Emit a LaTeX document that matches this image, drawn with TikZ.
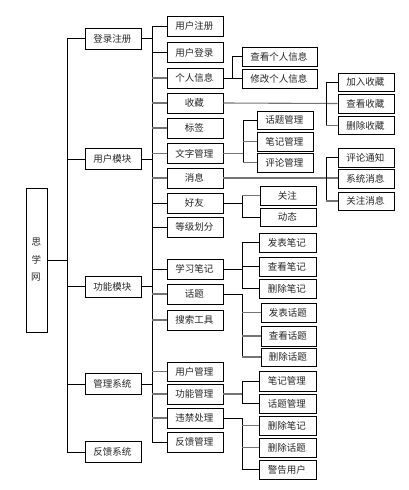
\documentclass[tikz,border=0pt]{standalone}
\usepackage{fontspec}
\newfontfamily\cjk{Noto Sans CJK SC}
\tikzset{
  box/.style={draw=black,line width=0.8pt,fill=white,inner sep=0pt,font=\cjk\fontsize{9.5}{11}\selectfont,text=black!85},
  ln/.style={draw=black,line width=0.7pt},
  gln/.style={draw=black!55,line width=1.1pt}
}
\newcommand{\parmark}[1]{#1{\color{black!45}\fontsize{5}{5}\selectfont .}}
\newcommand{\B}[6]{\node[box,minimum width=#4pt,minimum height=#5pt] (#1) at (#2,#3) {\parmark{#6}};}
\begin{document}
\begin{tikzpicture}[x=1pt,y=-1pt]
\useasboundingbox (0,0) rectangle (408,490);
% root
\node[box,minimum width=21pt,minimum height=144pt,align=center,font=\cjk\fontsize{9.5}{17.5}\selectfont] (root) at (36.5,260) {思\\学\\\parmark{网}};
% level 1
\B{dlzc}{113}{38.5}{56}{21}{登录注册}
\B{yhmk}{113}{159}{56}{21}{用户模块}
\B{gnmk}{113}{286.5}{56}{21}{功能模块}
\B{glxt}{113}{384}{56}{21}{管理系统}
\B{fkxt}{113}{452}{56}{21}{反馈系统}
% level 2
\B{yhzc}{195}{26}{56}{20}{用户注册}
\B{yhdl}{195}{52.5}{56}{20}{用户登录}
\B{grxx}{195}{78}{56}{20}{个人信息}
\B{sc}{195}{103}{56}{20}{收藏}
\B{bq}{195}{128}{56}{20}{标签}
\B{wzgl}{195}{153.5}{56}{20}{文字管理}
\B{xx}{195}{178}{56}{20}{消息}
\B{hy}{195}{203}{56}{20}{好友}
\B{djhf}{195}{227}{56}{20}{等级划分}
\B{xxbj}{195}{269}{56}{20}{学习笔记}
\B{ht}{195}{294}{56}{20}{话题}
\B{ssgj}{195}{320}{56}{20}{搜索工具}
\B{yhgl}{195}{371.5}{56}{19}{用户管理}
\B{gngl}{195}{394}{56}{20}{功能管理}
\B{wjcl}{195}{418}{56}{20}{违禁处理}
\B{fkgl}{195}{442}{56}{20}{反馈管理}
% level 3
\B{ckgr}{279.5}{56.5}{75}{19}{查看个人信息}
\B{xggr}{279.5}{78.5}{75}{19}{修改个人信息}
\B{jrsc}{366}{82}{56}{18}{加入收藏}
\B{cksc}{366}{103.5}{56}{19}{查看收藏}
\B{scsc}{366}{125.5}{56}{18}{删除收藏}
\B{htgl}{285}{120}{56}{18}{话题管理}
\B{bjgl}{285}{141.5}{56}{19}{笔记管理}
\B{plgl}{285}{162.5}{56}{19}{评论管理}
\B{pltz}{366}{157.5}{56}{19}{评论通知}
\B{xtxx}{366}{178.5}{56}{19}{系统消息}
\B{gzxx}{366}{201}{56}{18}{关注消息}
\B{gz}{288}{195.5}{56}{19}{关注}
\B{dt}{288}{217}{56}{18}{动态}
\B{fbbj}{287.5}{242.5}{57}{19}{发表笔记}
\B{ckbj}{287.5}{266.5}{57}{19}{查看笔记}
\B{scbj}{287.5}{288.5}{57}{19}{删除笔记}
\B{fbht}{288.5}{312.5}{55}{19}{发表话题}
\B{ckht}{288.5}{336}{55}{20}{查看话题}
\B{scht}{288.5}{357}{55}{18}{删除话题}
\B{bjgl2}{287.5}{381}{57}{20}{笔记管理}
\B{htgl2}{287.5}{403.5}{57}{19}{话题管理}
\B{scbj2}{287.5}{425.5}{57}{19}{删除笔记}
\B{scht2}{287.5}{447.5}{57}{19}{删除话题}
\B{jgyh}{287.5}{469.5}{57}{19}{警告用户}
% trunk coordinates
\coordinate (v1) at (67,0);
\coordinate (v2) at (152,0);
\coordinate (va) at (232,0);
\coordinate (vb) at (326,0);
\coordinate (vc) at (243,0);
\coordinate (vd) at (242,0);
% root to level 1
\draw[ln] (root.east) -- (root.east -| v1);
\draw[ln] (dlzc.west -| v1) -- (fkxt.west -| v1);
\foreach \n in {dlzc,yhmk,gnmk,glxt,fkxt} \draw[ln] (\n.west -| v1) -- (\n.west);
% level 1 to level 2 trunk
\draw[ln] (yhzc.west -| v2) -- (fkgl.west -| v2);
\foreach \n in {dlzc,yhmk,gnmk,glxt} \draw[ln] (\n.east) -- (\n.east -| v2);
\foreach \n in {yhzc,yhdl,hy,djhf,xxbj,fkgl} \draw[ln] (\n.west -| v2) -- (\n.west);
\foreach \n in {grxx,sc,bq,wzgl,xx,ht,ssgj,yhgl,gngl,wjcl} \draw[gln] (\n.west -| v2) -- (\n.west);
% 个人信息
\draw[ln] (grxx.east) -- (grxx.east -| va);
\draw[ln] (ckgr.west -| va) -- (xggr.west -| va);
\draw[ln] (ckgr.west -| va) -- (ckgr.west);
\draw[ln] (xggr.west -| va) -- (xggr.west);
% 收藏
\draw[gln] (sc.east) -- (cksc.west);
\draw[ln] (jrsc.west -| vb) -- (scsc.west -| vb);
\draw[ln] (jrsc.west -| vb) -- (jrsc.west);
\draw[gln] (scsc.west -| vb) -- (scsc.west);
% 文字管理
\draw[gln] (wzgl.east) -- (wzgl.east -| vc);
\draw[ln] (htgl.west -| vc) -- (plgl.west -| vc);
\draw[ln] (htgl.west -| vc) -- (htgl.west);
\draw[gln] (bjgl.west -| vc) -- (bjgl.west);
\draw[gln] (plgl.west -| vc) -- (plgl.west);
% 消息
\draw[gln] (xx.east) -- (xtxx.west |- xx.east);
\draw[ln] (pltz.west -| vb) -- (gzxx.west -| vb);
\draw[ln] (pltz.west -| vb) -- (pltz.west);
\draw[gln] (gzxx.west -| vb) -- (gzxx.west);
% 好友
\draw[ln] (hy.east) -- (hy.east -| vd);
\draw[ln] (gz.west -| vd) -- (dt.west -| vd);
\draw[gln] (gz.west -| vd) -- (gz.west);
\draw[ln] (dt.west -| vd) -- (dt.west);
% 学习笔记
\draw[ln] (xxbj.east) -- (xxbj.east -| vd);
\draw[ln] (fbbj.west -| vd) -- (scbj.west -| vd);
\foreach \n in {fbbj,ckbj,scbj} \draw[ln] (\n.west -| vd) -- (\n.west);
% 话题
\draw[ln] (ht.east) -- (ht.east -| vd);
\draw[ln] (ht.east -| vd) -- (scht.west -| vd);
\foreach \n in {fbht,ckht,scht} \draw[gln] (\n.west -| vd) -- (\n.west);
% 功能管理
\draw[gln] (gngl.east) -- (gngl.east -| vd);
\draw[ln] (bjgl2.west -| vd) -- (htgl2.west -| vd);
\foreach \n in {bjgl2,htgl2} \draw[ln] (\n.west -| vd) -- (\n.west);
% 违禁处理
\draw[ln] (wjcl.east) -- (wjcl.east -| vd);
\draw[ln] (wjcl.east -| vd) -- (jgyh.west -| vd);
\foreach \n in {scbj2,scht2} \draw[gln] (\n.west -| vd) -- (\n.west);
\draw[ln] (jgyh.west -| vd) -- (jgyh.west);
\end{tikzpicture}
\end{document}
